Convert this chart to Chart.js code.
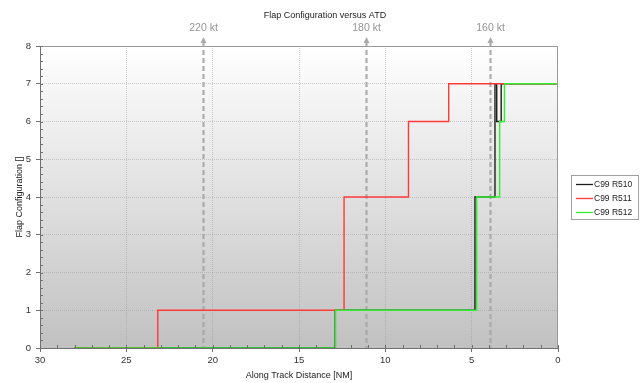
<!DOCTYPE html>
<html><head><meta charset="utf-8">
<script src="https://cdn.jsdelivr.net/npm/chart.js@4.4.0/dist/chart.umd.min.js"></script>
<style>html,body{margin:0;padding:0;background:#fff}#wrap{width:643px;height:383px}</style>
</head><body><div id="wrap"><canvas id="c" width="643" height="383"></canvas></div>
<script>
const chartTitle = 'Flap Configuration versus ATD';
const xAxisTitle = 'Along Track Distance [NM]';
const yAxisTitle = 'Flap Configuration []';
const seriesNames = ['C99 R510', 'C99 R511', 'C99 R512'];
const seriesColors = ['#1e1e1e', '#ff3838', '#33ee33'];
// step change points: distance [NM] where flap setting changes, and new setting
const r510Distance = [28, 12.9, 4.81, 3.65, 3.55, 3.29, 0];
const r510Flap     = [0, 1, 4, 7, 6, 7, 7];
const r511Distance = [28, 23.18, 12.39, 8.66, 6.33, 0];
const r511Flap     = [0, 1, 4, 6, 7, 7];
const r512Distance = [28, 12.88, 4.71, 3.38, 3.10, 0];
const r512Flap     = [0, 1, 4, 6, 7, 7];
const speedLabels   = ['220 kt', '180 kt', '160 kt'];
const speedDistance = [20.56, 11.10, 3.96];
const xMin = 0, xMax = 30, xStep = 5, xMinorStep = 1;
const yMin = 0, yMax = 8, yStep = 1, yMinorStep = 0.2;

const FONT = "'Liberation Sans', Arial, sans-serif";

function pts(xs, ys) { return xs.map((x, i) => ({ x: x, y: ys[i] })); }

const bgPlugin = {
  id: 'bg',
  beforeDraw(chart) {
    const { ctx, chartArea: a } = chart;
    const g = ctx.createLinearGradient(0, a.top, 0, a.bottom);
    g.addColorStop(0, '#ffffff');
    g.addColorStop(1, '#c1c1c1');
    ctx.save();
    ctx.fillStyle = g;
    ctx.fillRect(a.left, a.top, a.right - a.left, a.bottom - a.top);
    ctx.restore();
  }
};

const markerPlugin = {
  id: 'markers',
  beforeDatasetsDraw(chart) {
    const { ctx, chartArea: a } = chart;
    const xs = chart.scales.x;
    ctx.save();
    speedDistance.forEach((d, i) => {
      const x = Math.round(xs.getPixelForValue(d)) + 0.5;
      ctx.strokeStyle = 'rgba(165,165,165,0.9)';
      ctx.lineWidth = 2.2;
      ctx.setLineDash([5, 3]);
      ctx.beginPath();
      ctx.moveTo(x, 42);
      ctx.lineTo(x, a.bottom);
      ctx.stroke();
      ctx.setLineDash([]);
      ctx.fillStyle = 'rgba(165,165,165,0.95)';
      ctx.beginPath();
      ctx.moveTo(x, 37);
      ctx.lineTo(x - 3, 43);
      ctx.lineTo(x + 3, 43);
      ctx.closePath();
      ctx.fill();
      ctx.fillStyle = '#949494';
      ctx.font = '10.5px ' + FONT;
      ctx.textAlign = 'center';
      ctx.textBaseline = 'middle';
      ctx.fillText(speedLabels[i], x, 28);
    });
    ctx.restore();
  },
  afterDraw(chart) {
    const { ctx, chartArea: a } = chart;
    const xs = chart.scales.x, ys = chart.scales.y;
    ctx.save();
    // frame
    ctx.lineWidth = 1;
    ctx.strokeStyle = '#9a9a9a';
    ctx.beginPath();
    ctx.moveTo(a.left, a.top + 0.5); ctx.lineTo(a.right, a.top + 0.5);
    ctx.moveTo(a.right - 0.5, a.top); ctx.lineTo(a.right - 0.5, a.bottom);
    ctx.stroke();
    ctx.strokeStyle = '#707070';
    ctx.beginPath();
    ctx.moveTo(a.left + 0.5, a.top); ctx.lineTo(a.left + 0.5, a.bottom);
    ctx.moveTo(a.left, a.bottom + 0.5); ctx.lineTo(a.right, a.bottom + 0.5);
    ctx.stroke();
    // minor ticks
    ctx.strokeStyle = '#707070';
    ctx.beginPath();
    for (let v = xMin; v <= xMax + 1e-9; v += xMinorStep) {
      const x = Math.round(xs.getPixelForValue(v)) + 0.5;
      ctx.moveTo(x, a.bottom); ctx.lineTo(x, a.bottom - 3);
    }
    for (let k = 0; k <= Math.round((yMax - yMin) / yMinorStep); k++) {
      const v = yMin + k * yMinorStep;
      const y = Math.round(ys.getPixelForValue(v)) + 0.5;
      ctx.moveTo(a.left, y); ctx.lineTo(a.left + 3, y);
    }
    ctx.stroke();
    // title
    ctx.fillStyle = '#222';
    ctx.font = '9px ' + FONT;
    ctx.textAlign = 'center';
    ctx.textBaseline = 'middle';
    ctx.fillText(chartTitle, 325, 16);
    // legend
    const lx = 571.5, ly = 175.5, lw = 67, lh = 44;
    ctx.strokeStyle = '#a0a0a0';
    ctx.strokeRect(lx, ly, lw, lh);
    ctx.font = '8.5px ' + FONT;
    ctx.textAlign = 'left';
    chart.data.datasets.forEach((ds, i) => {
      const y = 184 + i * 14;
      ctx.strokeStyle = ds.borderColor;
      ctx.lineWidth = 1.3;
      ctx.beginPath();
      ctx.moveTo(576, y + 0.5); ctx.lineTo(593, y + 0.5);
      ctx.stroke();
      ctx.fillStyle = '#222';
      ctx.fillText(ds.label, 594, y + 0.5);
    });
    ctx.restore();
  }
};

const GRID = 'rgba(140,140,140,0.4)';

new Chart(document.getElementById('c').getContext('2d'), {
  type: 'line',
  data: {
    datasets: [
      { label: seriesNames[0], data: pts(r510Distance, r510Flap), borderColor: seriesColors[0], order: 2 },
      { label: seriesNames[1], data: pts(r511Distance, r511Flap), borderColor: seriesColors[1], order: 1 },
      { label: seriesNames[2], data: pts(r512Distance, r512Flap), borderColor: seriesColors[2], order: 0 }
    ]
  },
  options: {
    responsive: false,
    animation: false,
    devicePixelRatio: 1,
    layout: { padding: { top: 46, right: 85, left: 0, bottom: 0 } },
    elements: { line: { borderWidth: 1.4, stepped: 'before', tension: 0, fill: false }, point: { radius: 0 } },
    plugins: { legend: { display: false }, title: { display: false }, tooltip: { enabled: false } },
    scales: {
      x: {
        type: 'linear', reverse: true, min: xMin, max: xMax,
        ticks: { stepSize: xStep, color: '#333', font: { family: FONT, size: 9.5 }, padding: 3, maxRotation: 0 },
        grid: {
          color: (c) => (c.tick && (c.tick.value === xMin || c.tick.value === xMax)) ? 'rgba(0,0,0,0)' : GRID,
          tickColor: '#707070', tickLength: 4, lineWidth: 1, tickBorderDash: []
        },
        border: { display: false, dash: [1, 1] },
        title: { display: true, text: xAxisTitle, color: '#222', font: { family: FONT, size: 9 }, padding: { top: 0, bottom: 2 } },
        afterFit(s) { s.height = 35; }
      },
      y: {
        type: 'linear', min: yMin, max: yMax,
        ticks: { stepSize: yStep, color: '#333', font: { family: FONT, size: 9.5 }, padding: 5 },
        grid: {
          color: (c) => (c.tick && (c.tick.value === yMin || c.tick.value === yMax)) ? 'rgba(0,0,0,0)' : GRID,
          tickColor: '#707070', tickLength: 4, lineWidth: 1, tickBorderDash: []
        },
        border: { display: false, dash: [1, 1] },
        title: { display: true, text: yAxisTitle, color: '#222', font: { family: FONT, size: 9 }, padding: { top: 14, bottom: 0 } },
        afterFit(s) { s.width = 40; }
      }
    }
  },
  plugins: [bgPlugin, markerPlugin]
});
</script>
</body></html>
